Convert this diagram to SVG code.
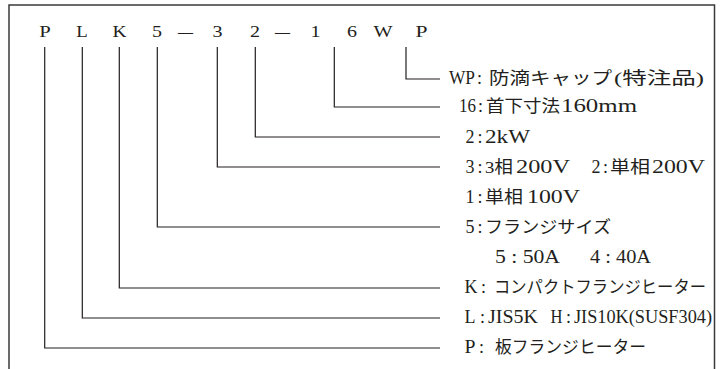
<svg xmlns="http://www.w3.org/2000/svg" width="724" height="369" viewBox="0 0 724 369">
<style>
.frame{fill:none;stroke:#3a3a3a;stroke-width:1.5}
.ln{fill:none;stroke:#231f20;stroke-width:1.2}
.code{font-family:"Liberation Serif","Noto Sans CJK JP",serif;font-size:16px;fill:#231f20;text-anchor:middle}
.lbl{font-family:"Liberation Serif","Noto Sans CJK JP",serif;font-size:18px;fill:#231f20}
.lbl text{font-family:"Liberation Serif","Noto Sans CJK JP",serif}
.j{font-size:17px}
</style>
<rect width="724" height="369" fill="#fff"/>
<path class="frame" d="M9,375 V5 H714.5 V375"/>
<g id="code">
<text class="code" x="45" y="37" textLength="11.5" lengthAdjust="spacingAndGlyphs">P</text>
<text class="code" x="82" y="37" textLength="11.5" lengthAdjust="spacingAndGlyphs">L</text>
<text class="code" x="119.5" y="37" textLength="14" lengthAdjust="spacingAndGlyphs">K</text>
<text class="code" x="157" y="37" textLength="10" lengthAdjust="spacingAndGlyphs">5</text>
<text class="code" x="185.5" y="37" textLength="15" lengthAdjust="spacingAndGlyphs">—</text>
<text class="code" x="217.5" y="37" textLength="10" lengthAdjust="spacingAndGlyphs">3</text>
<text class="code" x="255" y="37" textLength="10" lengthAdjust="spacingAndGlyphs">2</text>
<text class="code" x="282.5" y="37" textLength="15" lengthAdjust="spacingAndGlyphs">—</text>
<text class="code" x="315.5" y="37" textLength="10" lengthAdjust="spacingAndGlyphs">1</text>
<text class="code" x="352" y="37" textLength="10" lengthAdjust="spacingAndGlyphs">6</text>
<text class="code" x="383" y="37" textLength="19" lengthAdjust="spacingAndGlyphs">W</text>
<text class="code" x="421.5" y="37" textLength="12" lengthAdjust="spacingAndGlyphs">P</text>
</g>
<g id="connectors">
<path class="ln" d="M406,47 V79 H440"/>
<path class="ln" d="M334.3,47 V107 H440"/>
<path class="ln" d="M255.3,47 V137 H440"/>
<path class="ln" d="M217.3,47 V167 H440"/>
<path class="ln" d="M157.3,47 V227 H440"/>
<path class="ln" d="M119.3,47 V288 H440"/>
<path class="ln" d="M82.3,47 V318 H440"/>
<path class="ln" d="M44.7,47 V348 H440"/>
</g>
<g id="label-wp" class="lbl">
<text x="449" y="84" textLength="26" lengthAdjust="spacingAndGlyphs">WP</text>
<text x="477" y="84">:</text>
<text class="j" x="489" y="84" textLength="123" lengthAdjust="spacingAndGlyphs">防滴キャップ</text>
<text class="j" x="614" y="84" textLength="90" lengthAdjust="spacingAndGlyphs">(特注品)</text>
</g>
<g id="label-16" class="lbl">
<text x="459" y="112" textLength="17" lengthAdjust="spacingAndGlyphs">16</text>
<text x="478" y="112">:</text>
<text class="j" x="486" y="112" textLength="74" lengthAdjust="spacingAndGlyphs">首下寸法</text>
<text x="561" y="112" textLength="76" lengthAdjust="spacingAndGlyphs">160mm</text>
</g>
<g id="label-2" class="lbl">
<text x="465.5" y="143" textLength="9" lengthAdjust="spacingAndGlyphs">2</text>
<text x="477.5" y="143">:</text>
<text x="485" y="143" textLength="45" lengthAdjust="spacingAndGlyphs">2kW</text>
</g>
<g id="label-3" class="lbl">
<text x="465.5" y="173" textLength="9" lengthAdjust="spacingAndGlyphs">3</text>
<text x="477.5" y="173">:</text>
<text class="j" x="485" y="173" textLength="28" lengthAdjust="spacingAndGlyphs">3相</text>
<text x="516" y="173" textLength="54" lengthAdjust="spacingAndGlyphs">200V</text>
<text x="591.5" y="173" textLength="9" lengthAdjust="spacingAndGlyphs">2</text>
<text x="603" y="173">:</text>
<text class="j" x="610" y="173" textLength="40" lengthAdjust="spacingAndGlyphs">単相</text>
<text x="652" y="173" textLength="53" lengthAdjust="spacingAndGlyphs">200V</text>
</g>
<g id="label-1" class="lbl">
<text x="465.5" y="203" textLength="9" lengthAdjust="spacingAndGlyphs">1</text>
<text x="477.5" y="203">:</text>
<text class="j" x="485" y="203" textLength="38" lengthAdjust="spacingAndGlyphs">単相</text>
<text x="527" y="203" textLength="53" lengthAdjust="spacingAndGlyphs">100V</text>
</g>
<g id="label-5" class="lbl">
<text x="465.5" y="233" textLength="9" lengthAdjust="spacingAndGlyphs">5</text>
<text x="477.5" y="233">:</text>
<text class="j" x="485" y="233" textLength="126" lengthAdjust="spacingAndGlyphs">フランジサイズ</text>
</g>
<g id="label-50a" class="lbl">
<text x="495" y="263" textLength="65" lengthAdjust="spacingAndGlyphs">5 : 50A</text>
<text x="590" y="263" textLength="61" lengthAdjust="spacingAndGlyphs">4 : 40A</text>
</g>
<g id="label-k" class="lbl">
<text x="464.5" y="293" textLength="13" lengthAdjust="spacingAndGlyphs">K</text>
<text x="481" y="293">:</text>
<text class="j" x="494" y="293" textLength="212" lengthAdjust="spacingAndGlyphs">コンパクトフランジヒーター</text>
</g>
<g id="label-l" class="lbl">
<text x="464.5" y="323" textLength="11" lengthAdjust="spacingAndGlyphs">L</text>
<text x="480" y="323">:</text>
<text x="488" y="323" textLength="50" lengthAdjust="spacingAndGlyphs">JIS5K</text>
<text x="550.5" y="323" textLength="12" lengthAdjust="spacingAndGlyphs">H</text>
<text x="566" y="323">:</text>
<text x="574" y="323" textLength="138" lengthAdjust="spacingAndGlyphs">JIS10K(SUSF304)</text>
</g>
<g id="label-p" class="lbl">
<text x="464.5" y="353" textLength="11" lengthAdjust="spacingAndGlyphs">P</text>
<text x="479" y="353">:</text>
<text class="j" x="495" y="353" textLength="151" lengthAdjust="spacingAndGlyphs">板フランジヒーター</text>
</g>
</svg>
